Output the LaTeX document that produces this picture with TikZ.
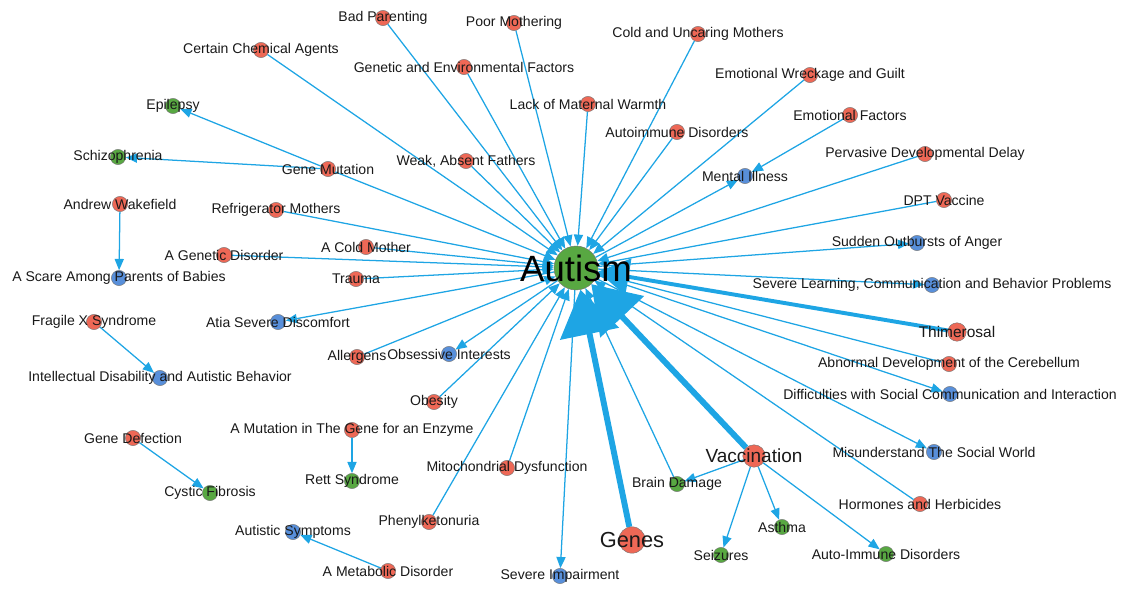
\documentclass[tikz,border=0pt]{standalone}
\usepackage{fontspec}
\setmainfont{Liberation Sans}
\usetikzlibrary{arrows.meta,backgrounds}
\definecolor{nodered}{RGB}{238,104,86}
\definecolor{nodegreen}{RGB}{88,168,66}
\definecolor{nodeblue}{RGB}{88,143,218}
\definecolor{edgeblue}{RGB}{30,165,228}

\begin{document}
\begin{tikzpicture}[x=0.025cm,y=-0.025cm,
		nd/.style={circle,draw=black!55,line width=0.3pt,inner sep=0pt,minimum size=0.38cm},
		lbl/.style={font=\fontsize{10}{12}\selectfont,text=black!90},
		rn/.style={nd,fill=nodered,label={[lbl]center:#1}},
		gn/.style={nd,fill=nodegreen,label={[lbl]center:#1}},
		bn/.style={nd,fill=nodeblue,label={[lbl]center:#1}},
		ed/.style={draw=edgeblue,line width=0.9pt,-{Triangle[length=8pt,width=6.5pt]}},
		mid/.style={draw=edgeblue,line width=2.8pt,-{Triangle[length=22pt,width=26pt]}},
		thk/.style={draw=edgeblue,line width=4.2pt,-{Triangle[length=32pt,width=42pt]}}]
	\useasboundingbox (0,0) rectangle (1126,588);

	\node[nd,fill=nodegreen,minimum size=1.1cm,
		label={[font=\fontsize{26}{30}\selectfont,text=black]center:Autism}] (autism) at (576,268) {};

	\node[rn=Bad Parenting] (badpar) at (383,18) {};
	\node[rn=Poor Mothering] (poormoth) at (514,23) {};
	\node[rn=Cold and Uncaring Mothers] (coldunc) at (698,34) {};
	\node[rn=Certain Chemical Agents] (chemag) at (261,50) {};
	\node[rn=Genetic and Environmental Factors] (genenv) at (464,67) {};
	\node[rn=Emotional Wreckage and Guilt] (wreck) at (810,75) {};
	\node[rn=Lack of Maternal Warmth] (matwarm) at (588,104) {};
	\node[gn=Epilepsy] (epil) at (173,106) {};
	\node[rn=Emotional Factors] (emofac) at (850,115) {};
	\node[rn=Autoimmune Disorders] (autoimm) at (677,132) {};
	\node[rn=Pervasive Developmental Delay] (pdd) at (925,154) {};
	\node[gn=Schizophrenia] (schiz) at (118,157) {};
	\node[rn={Weak, Absent Fathers}] (weakfath) at (466,161) {};
	\node[rn=Gene Mutation] (genemut) at (328,169) {};
	\node[bn=Mental Illness] (mentill) at (745,176) {};
	\node[rn=DPT Vaccine] (dpt) at (944,200) {};
	\node[rn=Andrew Wakefield] (wakef) at (120,204) {};
	\node[rn=Refrigerator Mothers] (fridge) at (276,210) {};
	\node[bn=Sudden Outbursts of Anger] (sudden) at (917,243) {};
	\node[rn=A Cold Mother] (coldmoth) at (366,247) {};
	\node[rn=A Genetic Disorder] (gendis) at (224,255) {};
	\node[bn=A Scare Among Parents of Babies] (scare) at (119,278) {};
	\node[rn=Trauma] (trauma) at (356,279) {};
	\node[bn={Severe Learning, Communication and Behavior Problems}] (learn) at (932,285) {};
	\node[rn=Fragile X Syndrome] (fragx) at (94,322) {};
	\node[bn=Atia Severe Discomfort] (atia) at (278,322) {};
	\node[nd,fill=nodered,minimum size=0.46cm,
		label={[lbl,font=\fontsize{11}{13}\selectfont]center:Thimerosal}] (thim) at (957,332) {};
	\node[bn=Obsessive Interests] (obsess) at (449,354) {};
	\node[rn=Allergens] (allerg) at (357,357) {};
	\node[rn=Abnormal Development of the Cerebellum] (cereb) at (949,364) {};
	\node[bn=Intellectual Disability and Autistic Behavior] (intell) at (160,378) {};
	\node[bn=Difficulties with Social Communication and Interaction] (diffsoc) at (950,394) {};
	\node[rn=Obesity] (obes) at (434,402) {};
	\node[rn=A Mutation in The Gene for an Enzyme] (enzyme) at (352,430) {};
	\node[rn=Gene Defection] (genedef) at (133,438) {};
	\node[bn=Misunderstand The Social World] (socworld) at (934,452) {};
	\node[nd,fill=nodered,minimum size=0.56cm,
		label={[lbl,font=\fontsize{13.5}{16}\selectfont]center:Vaccination}] (vacc) at (754,456) {};
	\node[rn=Mitochondrial Dysfunction] (mito) at (507,468) {};
	\node[gn=Rett Syndrome] (rett) at (352,481) {};
	\node[gn=Brain Damage] (brain) at (677,484) {};
	\node[gn=Cystic Fibrosis] (cystic) at (210,493) {};
	\node[rn=Hormones and Herbicides] (hormon) at (920,504) {};
	\node[rn=Phenylketonuria] (phenyl) at (429,522) {};
	\node[gn=Asthma] (asthma) at (782,527) {};
	\node[bn=Autistic Symptoms] (autsym) at (293,532) {};
	\node[nd,fill=nodered,minimum size=0.66cm,
		label={[lbl,font=\fontsize{15.5}{18}\selectfont]center:Genes}] (genes) at (632,540) {};
	\node[gn=Seizures] (seiz) at (721,555) {};
	\node[gn=Auto-Immune Disorders] (autoimmd) at (886,554) {};
	\node[rn=A Metabolic Disorder] (metab) at (388,571) {};
	\node[bn=Severe Impairment] (severe) at (560,576) {};

	\begin{scope}[on background layer]
		\foreach \src in {badpar,poormoth,coldunc,chemag,genenv,wreck,matwarm,autoimm,pdd,
			weakfath,genemut,dpt,fridge,coldmoth,gendis,trauma,allerg,cereb,obes,mito,hormon,phenyl,brain}
			\draw[ed] (\src) -- (autism);
		\foreach \dst in {mentill,sudden,learn,atia,obsess,diffsoc,socworld,severe}
			\draw[ed] (autism) -- (\dst);
		\foreach \dst in {brain,seiz,asthma,autoimmd}
			\draw[ed] (vacc) -- (\dst);
		\draw[mid] (thim) -- (autism);
		\draw[thk] (vacc) -- (autism);
		\draw[thk] (genes) -- (autism);
		\draw[ed] (emofac) -- (mentill);
		\draw[ed] (genemut) -- (epil);
		\draw[ed] (genemut) -- (schiz);
		\draw[ed] (wakef) -- (scare);
		\draw[ed] (fragx) -- (intell);
		\draw[ed] (genedef) -- (cystic);
		\draw[ed] (enzyme) -- (rett);
		\draw[ed] (metab) -- (autsym);
		%\draw[ed] (autism) -- (brain);
	\end{scope}
\end{tikzpicture}
\end{document}
